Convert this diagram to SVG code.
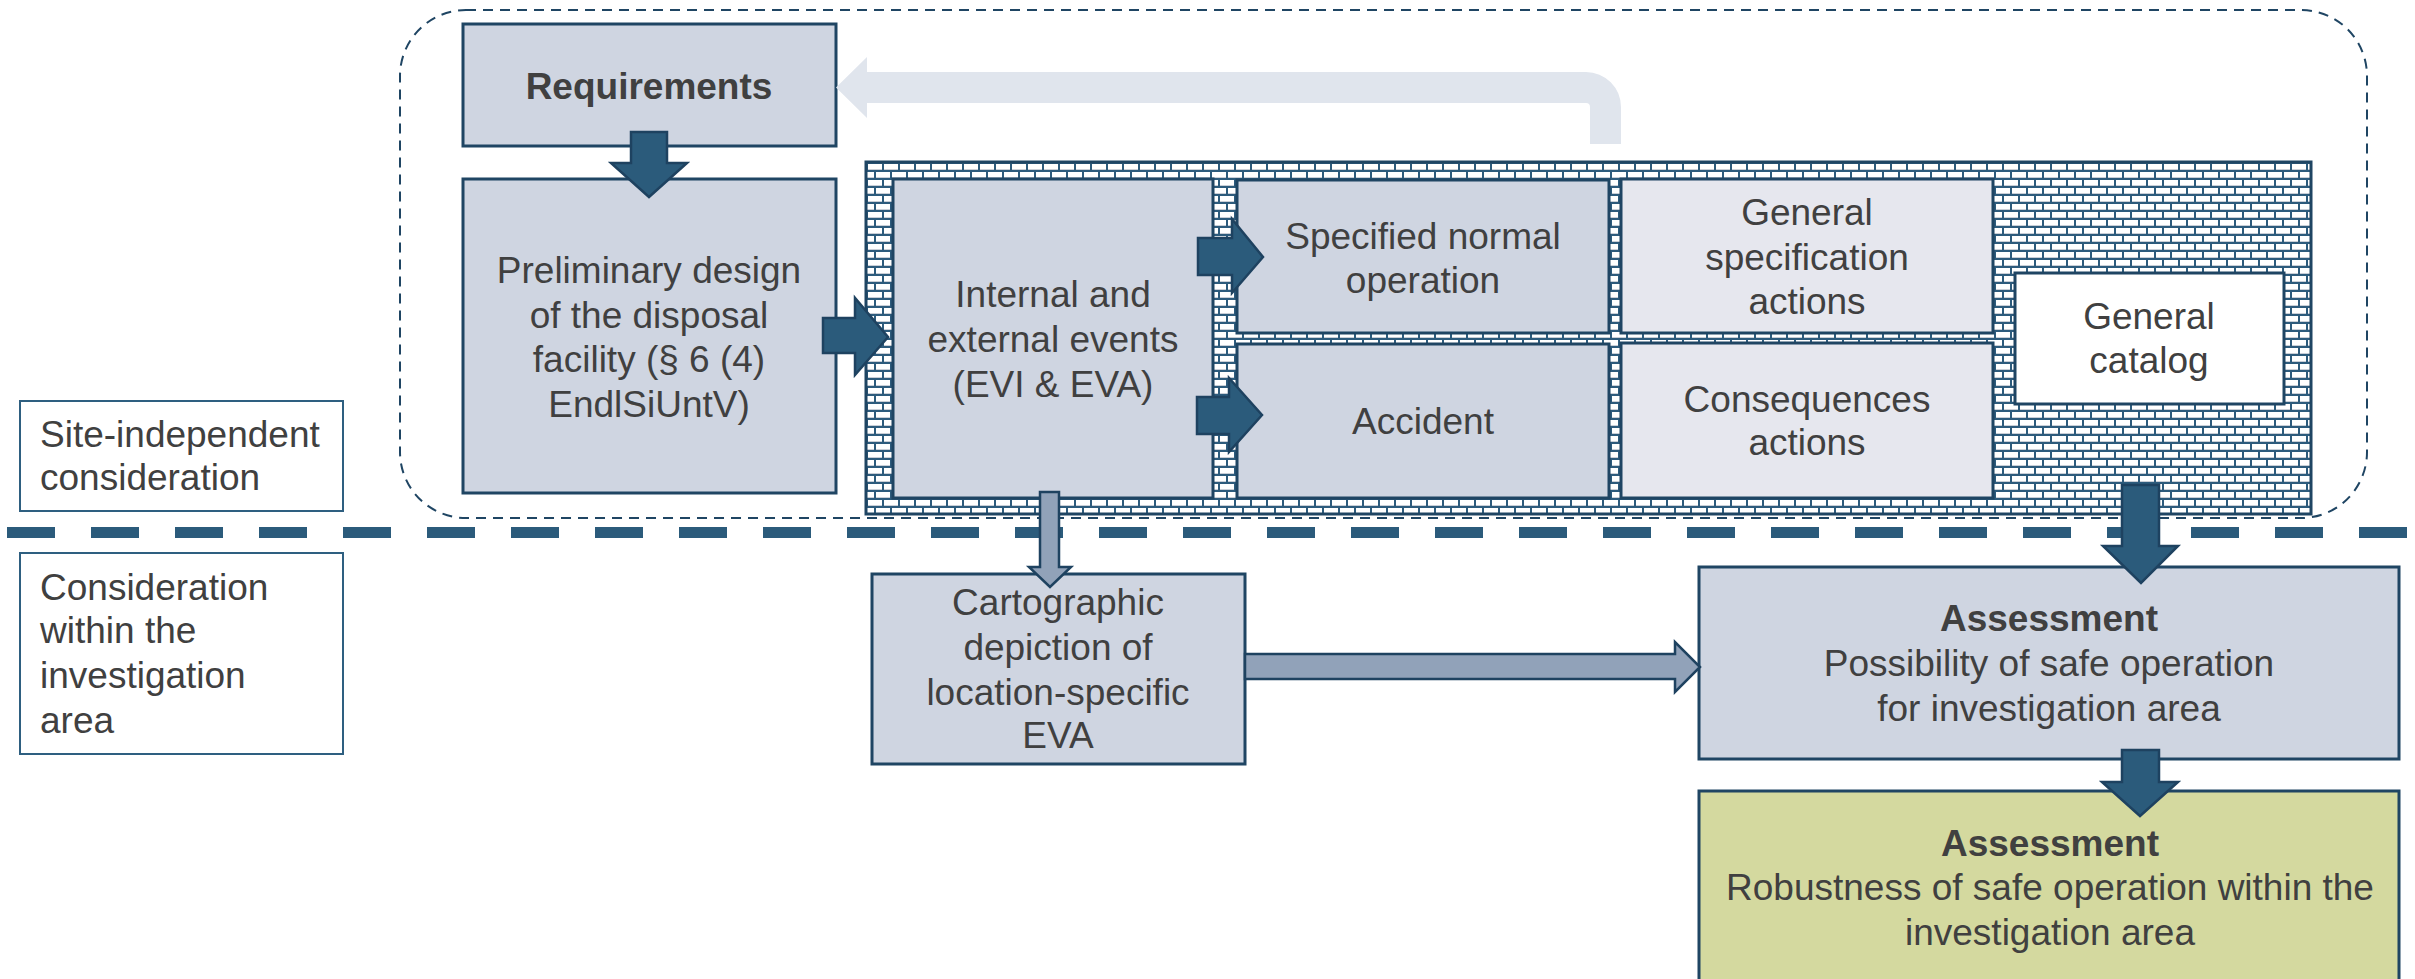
<svg xmlns="http://www.w3.org/2000/svg" width="2415" height="979" viewBox="0 0 2415 979">
  <style>
    .t { font-family: "Liberation Sans", Arial, sans-serif; font-size: 37px; fill: #404040; text-anchor: middle; }
    .tl { font-family: "Liberation Sans", Arial, sans-serif; font-size: 37px; fill: #404040; }
    .b { font-weight: bold; }
    .box { fill: #cfd5e1; stroke: #1f4563; stroke-width: 3; }
    .boxl { fill: #e6e7ee; stroke: #1f4563; stroke-width: 3; }
    .boxw { fill: #ffffff; stroke: #1f4563; stroke-width: 3; }
    .boxg { fill: #d4d99f; stroke: #1f4563; stroke-width: 3; }
    .lab { fill: #ffffff; stroke: #2e5f80; stroke-width: 2; }
    .arr { fill: #2b5b7b; stroke: #1e4260; stroke-width: 2.5; stroke-linejoin: miter; }
    .arr2 { fill: #91a2b9; stroke: #1e4260; stroke-width: 2.5; stroke-linejoin: miter; }
    .back { fill: #e0e5ed; }
  </style>
  <defs>
    <!-- white bricks with navy mortar, two offset courses per tile -->
    <pattern id="bricks" patternUnits="userSpaceOnUse" x="866" y="162" width="16" height="16">
      <rect width="16" height="16" fill="#2d5b7c"/>
      <rect x="2" y="2" width="14" height="6" fill="#ffffff"/>
      <rect x="2" y="7" width="14" height="1" fill="#c9ced6"/>
      <rect x="10" y="10" width="14" height="6" fill="#ffffff"/>
      <rect x="-6" y="10" width="14" height="6" fill="#ffffff"/>
      <rect x="10" y="15" width="14" height="1" fill="#c9ced6"/>
      <rect x="-6" y="15" width="14" height="1" fill="#c9ced6"/>
    </pattern>
  </defs>

  <!-- site-independent frame -->
  <rect id="frame" x="400" y="10" width="1967" height="508" rx="66" ry="66" fill="none" stroke="#1f4563" stroke-width="2" stroke-dasharray="10 7"/>

  <!-- boundary between the two consideration levels -->
  <line id="divider" x1="7" y1="532.5" x2="2415" y2="532.5" stroke="#2b5b7b" stroke-width="11" stroke-dasharray="48 36"/>

  <!-- side labels -->
  <g id="label-site">
    <rect class="lab" x="20" y="401" width="323" height="110"/>
    <text class="tl" x="40" y="447">Site-independent</text>
    <text class="tl" x="40" y="490">consideration</text>
  </g>
  <g id="label-area">
    <rect class="lab" x="20" y="553" width="323" height="201"/>
    <text class="tl" x="40" y="600">Consideration</text>
    <text class="tl" x="40" y="643">within the</text>
    <text class="tl" x="40" y="688">investigation</text>
    <text class="tl" x="40" y="733">area</text>
  </g>

  <g id="requirements">
    <rect class="box" x="463" y="24" width="373" height="122"/>
    <text class="t b" x="649" y="99">Requirements</text>
  </g>

  <g id="preliminary-design">
    <rect class="box" x="463" y="179" width="373" height="314"/>
    <text class="t" x="649" y="283">Preliminary design</text>
    <text class="t" x="649" y="328">of the disposal</text>
    <text class="t" x="649" y="372">facility (§ 6 (4)</text>
    <text class="t" x="649" y="417">EndlSiUntV)</text>
  </g>

  <!-- brick-walled catalogue block -->
  <g id="catalog-block">
    <rect x="866" y="162" width="1445" height="352" fill="url(#bricks)" stroke="#1f4563" stroke-width="3"/>
  </g>

  <g id="events">
    <rect class="box" x="893" y="179" width="320" height="319"/>
    <text class="t" x="1053" y="307">Internal and</text>
    <text class="t" x="1053" y="352">external events</text>
    <text class="t" x="1053" y="397">(EVI &amp; EVA)</text>
  </g>

  <g id="normal-operation">
    <rect class="box" x="1237" y="180" width="372" height="153"/>
    <text class="t" x="1423" y="249">Specified normal</text>
    <text class="t" x="1423" y="293">operation</text>
  </g>

  <g id="accident">
    <rect class="box" x="1237" y="344" width="372" height="154"/>
    <text class="t" x="1423" y="434">Accident</text>
  </g>

  <g id="spec-actions">
    <rect class="boxl" x="1621" y="179" width="372" height="154"/>
    <text class="t" x="1807" y="225">General</text>
    <text class="t" x="1807" y="270">specification</text>
    <text class="t" x="1807" y="314">actions</text>
  </g>

  <g id="consequence-actions">
    <rect class="boxl" x="1621" y="343" width="372" height="155"/>
    <text class="t" x="1807" y="412">Consequences</text>
    <text class="t" x="1807" y="455">actions</text>
  </g>

  <g id="general-catalog">
    <rect class="boxw" x="2015" y="273" width="269" height="131"/>
    <text class="t" x="2149" y="329">General</text>
    <text class="t" x="2149" y="373">catalog</text>
  </g>

  <g id="cartographic">
    <rect class="box" x="872" y="574" width="373" height="190"/>
    <text class="t" x="1058" y="615">Cartographic</text>
    <text class="t" x="1058" y="660">depiction of</text>
    <text class="t" x="1058" y="705">location-specific</text>
    <text class="t" x="1058" y="748">EVA</text>
  </g>

  <g id="assessment-possibility">
    <rect class="box" x="1699" y="567" width="700" height="192"/>
    <text class="t b" x="2049" y="631">Assessment</text>
    <text class="t" x="2049" y="676">Possibility of safe operation</text>
    <text class="t" x="2049" y="721">for investigation area</text>
  </g>

  <g id="assessment-robustness">
    <rect class="boxg" x="1699" y="791" width="700" height="200"/>
    <text class="t b" x="2050" y="856">Assessment</text>
    <text class="t" x="2050" y="900">Robustness of safe operation within the</text>
    <text class="t" x="2050" y="945">investigation area</text>
  </g>

  <!-- connectors: block arrows -->
  <g id="connectors">
    <!-- feedback to requirements -->
    <path class="back" d="M1590,144 L1590,107 Q1590,103 1586,103 L867,103 L867,118 L836,87.5 L867,57 L867,72 L1586,72 A35,35 0 0 1 1621,107 L1621,144 Z"/>
    <!-- requirements to preliminary design -->
    <path class="arr" d="M631,132 L667,132 L667,163 L687,163 L649,197 L611,163 L631,163 Z"/>
    <!-- preliminary design to events -->
    <path class="arr" d="M823,318 L855,318 L855,298 L888,337 L855,375 L855,353 L823,353 Z"/>
    <!-- events to normal operation -->
    <path class="arr" d="M1198,238 L1232,238 L1232,219 L1263,257 L1232,293 L1232,275 L1198,275 Z"/>
    <!-- events to accident -->
    <path class="arr" d="M1197,397 L1229,397 L1229,378 L1262,415 L1229,452 L1229,434 L1197,434 Z"/>
    <!-- events to cartographic depiction -->
    <path class="arr2" d="M1040,492 L1059,492 L1059,567 L1071,567 L1050,587 L1029,567 L1040,567 Z"/>
    <!-- cartographic depiction to assessment -->
    <path class="arr2" d="M1245,654 L1675,654 L1675,642 L1700,667 L1675,692 L1675,679 L1245,679 Z"/>
    <!-- catalogue to assessment -->
    <path class="arr" d="M2122,485 L2159,485 L2159,546 L2178,546 L2141,583 L2103,546 L2122,546 Z"/>
    <!-- assessment to robustness assessment -->
    <path class="arr" d="M2122,750 L2159,750 L2159,782 L2178,782 L2140,816 L2102,782 L2122,782 Z"/>
  </g>
</svg>
